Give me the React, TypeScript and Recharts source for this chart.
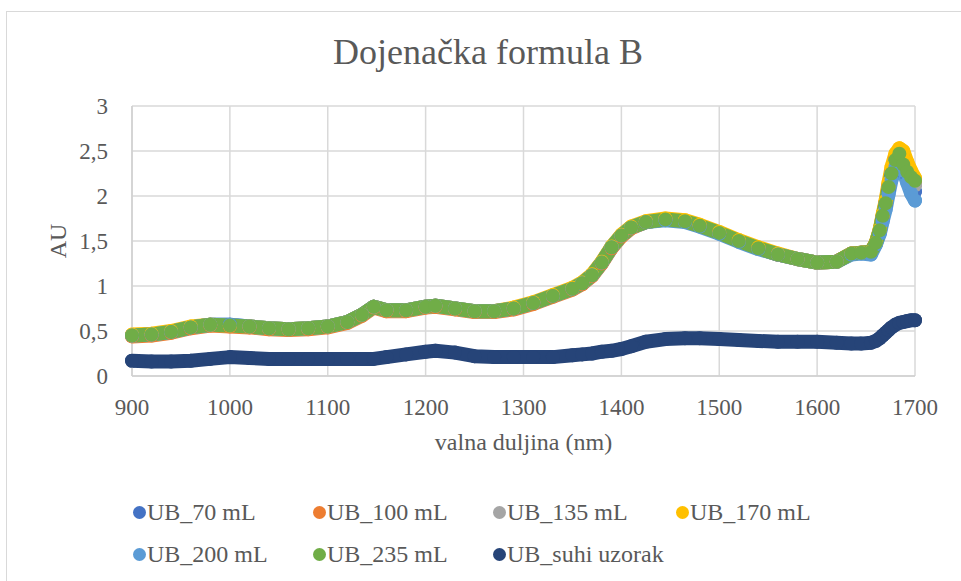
import React from 'react';
import { LineChart, Line, XAxis, YAxis, CartesianGrid, Label } from 'recharts';

// wavelengths (nm) shared by every series
const wavelengths = [
  900, 920, 940, 960, 980, 1000, 1020, 1040, 1060, 1080, 1100, 1120,
  1135, 1147, 1160, 1180, 1200, 1210, 1230, 1250, 1270, 1290, 1310, 1330, 1350,
  1360, 1370, 1380, 1390, 1400, 1410, 1425, 1445, 1465, 1480, 1500, 1520, 1540, 1560, 1580, 1600, 1620, 1635, 1645, 1655,
  1660, 1664, 1667, 1670, 1673, 1676, 1680, 1684, 1688, 1692, 1696, 1700
];

const ub70 = [
  0.45, 0.46, 0.49, 0.54, 0.57, 0.57, 0.55, 0.53, 0.52, 0.53, 0.55, 0.6,
  0.68, 0.77, 0.73, 0.73, 0.77, 0.78, 0.75, 0.72, 0.72, 0.75, 0.81, 0.89, 0.97,
  1.03, 1.12, 1.26, 1.43, 1.56, 1.65, 1.71, 1.74, 1.72, 1.67, 1.59, 1.5, 1.42, 1.35, 1.3, 1.26, 1.27, 1.36, 1.37, 1.37,
  1.47, 1.6, 1.75, 1.9, 2.06, 2.22, 2.36, 2.42, 2.33, 2.22, 2.12, 2.05
];

const ub100 = [
  0.44, 0.45, 0.48, 0.53, 0.56, 0.55, 0.54, 0.52, 0.51, 0.52, 0.54, 0.59,
  0.67, 0.76, 0.72, 0.72, 0.76, 0.77, 0.74, 0.71, 0.71, 0.74, 0.8, 0.88, 0.96,
  1.02, 1.11, 1.25, 1.42, 1.55, 1.64, 1.71, 1.74, 1.72, 1.67, 1.59, 1.5, 1.42, 1.35, 1.3, 1.26, 1.27, 1.36, 1.37, 1.38,
  1.48, 1.62, 1.78, 1.93, 2.12, 2.28, 2.42, 2.48, 2.42, 2.32, 2.22, 2.14
];

const ub135 = [
  0.45, 0.46, 0.49, 0.54, 0.57, 0.56, 0.55, 0.53, 0.52, 0.53, 0.55, 0.6,
  0.68, 0.77, 0.73, 0.73, 0.77, 0.78, 0.75, 0.72, 0.72, 0.75, 0.81, 0.89, 0.97,
  1.03, 1.12, 1.26, 1.43, 1.56, 1.65, 1.71, 1.74, 1.72, 1.67, 1.59, 1.5, 1.42, 1.35, 1.3, 1.26, 1.27, 1.36, 1.37, 1.38,
  1.47, 1.61, 1.77, 1.92, 2.1, 2.26, 2.4, 2.45, 2.4, 2.3, 2.2, 2.12
];

const ub170 = [
  0.46, 0.47, 0.5, 0.55, 0.57, 0.56, 0.55, 0.53, 0.52, 0.53, 0.55, 0.6,
  0.68, 0.77, 0.73, 0.73, 0.77, 0.78, 0.75, 0.72, 0.72, 0.76, 0.82, 0.9, 0.98,
  1.04, 1.13, 1.27, 1.44, 1.57, 1.66, 1.72, 1.75, 1.73, 1.68, 1.6, 1.51, 1.43, 1.36, 1.3, 1.26, 1.27, 1.36, 1.37, 1.38,
  1.48, 1.63, 1.8, 1.95, 2.15, 2.32, 2.47, 2.53, 2.5, 2.38, 2.28, 2.2
];

const ub200 = [
  0.45, 0.46, 0.49, 0.54, 0.57, 0.57, 0.55, 0.53, 0.52, 0.53, 0.55, 0.6,
  0.68, 0.77, 0.73, 0.73, 0.77, 0.78, 0.75, 0.72, 0.72, 0.75, 0.81, 0.89, 0.97,
  1.03, 1.12, 1.26, 1.43, 1.56, 1.65, 1.71, 1.73, 1.71, 1.66, 1.58, 1.49, 1.41, 1.35, 1.3, 1.26, 1.27, 1.35, 1.36, 1.35,
  1.46, 1.58, 1.72, 1.85, 2.02, 2.18, 2.32, 2.38, 2.28, 2.15, 2.03, 1.95
];

const ub235 = [
  0.45, 0.46, 0.49, 0.54, 0.57, 0.56, 0.55, 0.53, 0.52, 0.53, 0.55, 0.6,
  0.68, 0.77, 0.73, 0.73, 0.77, 0.78, 0.75, 0.72, 0.72, 0.75, 0.81, 0.89, 0.97,
  1.03, 1.12, 1.26, 1.43, 1.56, 1.65, 1.71, 1.74, 1.72, 1.67, 1.59, 1.5, 1.42, 1.35, 1.3, 1.26, 1.27, 1.36, 1.37, 1.38,
  1.48, 1.62, 1.78, 1.92, 2.1, 2.25, 2.4, 2.47, 2.35, 2.27, 2.21, 2.17
];

const ubSuhi = [
  0.17, 0.16, 0.16, 0.17, 0.19, 0.21, 0.2, 0.19, 0.19, 0.19, 0.19, 0.19,
  0.19, 0.19, 0.21, 0.24, 0.27, 0.28, 0.26, 0.22, 0.21, 0.21, 0.21, 0.21, 0.23,
  0.24, 0.25, 0.27, 0.28, 0.3, 0.33, 0.38, 0.41, 0.42, 0.42, 0.41, 0.4, 0.39, 0.38, 0.38, 0.38, 0.37, 0.36, 0.36, 0.37,
  0.39, 0.42, 0.45, 0.48, 0.51, 0.54, 0.57, 0.59, 0.6, 0.61, 0.62, 0.62
];

const seriesList = [
  { name: 'UB_70 mL', color: '#4472C4', values: ub70 },
  { name: 'UB_100 mL', color: '#ED7D31', values: ub100 },
  { name: 'UB_135 mL', color: '#A5A5A5', values: ub135 },
  { name: 'UB_170 mL', color: '#FFC000', values: ub170 },
  { name: 'UB_200 mL', color: '#5B9BD5', values: ub200 },
  { name: 'UB_235 mL', color: '#70AD47', values: ub235 },
  { name: 'UB_suhi uzorak', color: '#264478', values: ubSuhi }
];

const xTicks = [900, 1000, 1100, 1200, 1300, 1400, 1500, 1600, 1700];
const yTicks = [0, 0.5, 1, 1.5, 2, 2.5, 3];

const FONT = '"Liberation Serif", "Times New Roman", serif';
const TEXT = '#595959';

// legend slots: [dot x, dot y]
const legendSlots = [
  [140, 512], [320, 512], [500, 512], [683, 512],
  [140, 554], [320, 554], [500, 554]
];

const toPoints = (values: number[]) =>
  wavelengths.map((nm, i) => ({ nm, au: values[i] }));

export default function App() {
  return (
    <div style={{ position: 'absolute', left: 0, top: 0, width: 961, height: 581, background: '#fff', fontFamily: FONT, overflow: 'hidden' }}>
      <div style={{ position: 'absolute', left: 6, top: 11, width: 980, height: 600, borderTop: '1.5px solid #d9d9d9', borderLeft: '1.5px solid #d9d9d9' }} />
      <div style={{ position: 'absolute', left: 0, top: 32, width: 976, height: 40, lineHeight: '40px', textAlign: 'center', fontSize: 36, color: TEXT }}>
        Dojenačka formula B
      </div>

      <LineChart
        width={961}
        height={581}
        margin={{ top: 106, right: 46, left: 0, bottom: 115 }}
        style={{ position: 'absolute', left: 0, top: 0 }}
      >
        <CartesianGrid stroke="#d9d9d9" strokeWidth={1.5} />
        <XAxis
          dataKey="nm"
          type="number"
          domain={[900, 1700]}
          ticks={xTicks}
          allowDuplicatedCategory={false}
          height={90}
          tickLine={false}
          tickMargin={17}
          axisLine={{ stroke: '#d0d0d0', strokeWidth: 1.5 }}
          tick={{ fill: TEXT, fontSize: 23, fontFamily: FONT }}
        >
          <Label value="valna duljina (nm)" position="insideBottom" offset={16} fill={TEXT} fontSize={24} fontFamily={FONT} />
        </XAxis>
        <YAxis
          type="number"
          domain={[0, 3]}
          ticks={yTicks}
          width={132}
          tickLine={false}
          tickMargin={18}
          axisLine={{ stroke: '#d0d0d0', strokeWidth: 1.5 }}
          tick={{ fill: TEXT, fontSize: 23, fontFamily: FONT }}
          tickFormatter={(v: number) => String(v).replace('.', ',')}
        >
          <Label value="AU" angle={-90} position="insideLeft" offset={57} textAnchor="middle" fill={TEXT} fontSize={24} fontFamily={FONT} />
        </YAxis>
        {seriesList.map((s) => (
          <Line
            key={s.name}
            data={toPoints(s.values)}
            dataKey="au"
            name={s.name}
            type="linear"
            stroke={s.color}
            strokeWidth={14}
            strokeLinecap="round"
            strokeLinejoin="round"
            dot={{ r: 7, fill: s.color, stroke: 'none' }}
            activeDot={false}
            isAnimationActive={false}
          />
        ))}
      </LineChart>

      {seriesList.map((s, i) => (
        <div key={s.name} style={{ position: 'absolute', left: legendSlots[i][0] - 7, top: legendSlots[i][1] - 15, height: 30, display: 'flex', alignItems: 'center', whiteSpace: 'nowrap' }}>
          <span style={{ width: 13, height: 13, borderRadius: '50%', background: s.color, display: 'inline-block', marginRight: 1 }} />
          <span style={{ fontSize: 24, color: TEXT }}>{s.name}</span>
        </div>
      ))}
    </div>
  );
}
